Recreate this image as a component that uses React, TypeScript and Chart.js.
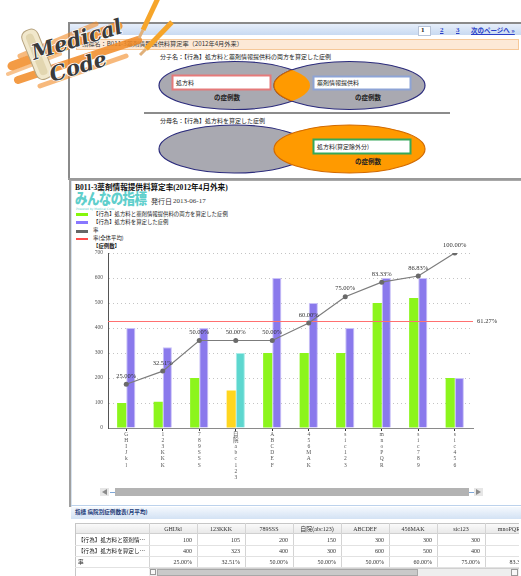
import React, { useEffect, useRef } from 'react';
import { Chart, registerables } from 'chart.js';

Chart.register(...registerables);

// ---------------- data ----------------
const categories = ['GHIJkl', '123KKK', '789SSS', '自院(abc123)', 'ABCDEF', '456MAK', 'sic123', 'mnoPQR', 'sic789', 'sic456'];
const bothCounts = [100, 105, 200, 150, 300, 300, 300, 500, 520, 200];
const prescriptionCounts = [400, 323, 400, 300, 600, 500, 400, 600, 600, 200];
const rates = [25.0, 32.51, 50.0, 50.0, 50.0, 60.0, 75.0, 83.33, 86.83, 100.0];
const averageRate = 61.27;
const ownHospital = '自院(abc123)';
const yAxisMax = 700;
const yAxisStep = 100;
const rateAxisMax = 100;
const seriesLabels = [
  '【行為】処方料と薬剤情報提供料の両方を算定した症例',
  '【行為】処方料を算定した症例',
  '率',
  '率(全体平均)',
];
const chartTitle = 'B011-3薬剤情報提供料算定率(2012年4月外来)';
const issueDate = '2013-06-17';
const indicatorName = '指標名：B011-3薬剤情報提供料算定率（2012年4月外来）';
const numeratorName = '分子名：【行為】処方料と薬剤情報提供料の両方を算定した症例';
const denominatorName = '分母名：【行為】処方料を算定した症例';
const tableTitle = '指標 病院別症例数表(月平均)';
const pages = ['1', '2', '3'];

// ---------------- styles ----------------
const SERIF = "'Liberation Serif', 'Noto Sans CJK JP', serif";
const GOTHIC = "'Noto Sans CJK JP', 'DejaVu Sans', sans-serif";
const GREEN = '#8cf51c';
const PURPLE = '#8a79ec';
const YELLOW = '#ffd61f';
const TEAL = '#5dd7cf';
const RATE_GRAY = '#7c7c7c';
const RED = '#ff7070';
const legendColors = ['#86f70a', '#8877ff', '#666666', '#ff4a4a'];
const legendWidths = [3, 3, 3, 1.5];

const abs = (l: number, t: number, extra: React.CSSProperties = {}): React.CSSProperties => ({
  position: 'absolute',
  left: l,
  top: t,
  ...extra,
});

function RateChart() {
  const ref = useRef<HTMLCanvasElement>(null);
  useEffect(() => {
    if (!ref.current) return;
    const own = categories.indexOf(ownHospital);
    const overlay = {
      id: 'overlay',
      beforeDatasetDraw(chart: any, args: any) {
        if (args.index !== 2) return;
        const { ctx, chartArea } = chart;
        const yAvg = Math.round(chart.scales.y2.getPixelForValue(averageRate)) + 0.5;
        ctx.save();
        ctx.strokeStyle = RED;
        ctx.lineWidth = 1;
        ctx.beginPath();
        ctx.moveTo(chartArea.left, yAvg);
        ctx.lineTo(chartArea.right, yAvg);
        ctx.stroke();
        ctx.font = `6.5px ${SERIF}`;
        ctx.fillStyle = '#333';
        ctx.textBaseline = 'middle';
        ctx.textAlign = 'left';
        ctx.fillText(averageRate.toFixed(2) + '%', chartArea.right + 4, yAvg);
        ctx.restore();
      },
      afterDatasetsDraw(chart: any) {
        const { ctx } = chart;
        const meta = chart.getDatasetMeta(2);
        ctx.save();
        ctx.font = `6.5px ${SERIF}`;
        ctx.fillStyle = '#333';
        ctx.textBaseline = 'middle';
        ctx.textAlign = 'center';
        meta.data.forEach((pt: any, i: number) => {
          ctx.fillText(rates[i].toFixed(2) + '%', pt.x, pt.y - 8);
        });
        ctx.restore();
      },
    };
    const chart = new Chart(ref.current, {
      type: 'bar',
      data: {
        labels: categories,
        datasets: [
          {
            type: 'bar',
            label: seriesLabels[0],
            data: bothCounts,
            backgroundColor: categories.map((_, i) => (i === own ? YELLOW : GREEN)),
            borderWidth: 0,
            categoryPercentage: 0.5,
            barPercentage: 1,
            yAxisID: 'y',
            order: 1,
          },
          {
            type: 'bar',
            label: seriesLabels[1],
            data: prescriptionCounts,
            backgroundColor: categories.map((_, i) => (i === own ? TEAL : PURPLE)),
            borderColor: categories.map((_, i) => (i === own ? '#a8ece8' : '#c9c1f7')),
            borderWidth: { left: 1, right: 1, top: 1, bottom: 0 },
            categoryPercentage: 0.5,
            barPercentage: 1,
            yAxisID: 'y',
            order: 1,
          },
          {
            type: 'line',
            label: seriesLabels[2],
            data: rates,
            borderColor: RATE_GRAY,
            borderWidth: 1.2,
            pointRadius: 2.5,
            pointBackgroundColor: '#6a6a6a',
            pointBorderColor: '#6a6a6a',
            pointBorderWidth: 0,
            tension: 0,
            yAxisID: 'y2',
            order: 0,
          } as any,
        ],
      },
      options: {
        animation: false,
        responsive: false,
        maintainAspectRatio: false,
        layout: { padding: { left: 8, right: 48, top: 13, bottom: 0 } },
        plugins: { legend: { display: false }, tooltip: { enabled: false }, title: { display: false } },
        scales: {
          x: {
            offset: true,
            grid: { drawOnChartArea: false, drawTicks: true, tickLength: 3, color: '#333', offset: false },
            border: { display: true, color: '#8a8a8a', width: 1 },
            ticks: {
              autoSkip: false,
              maxRotation: 0,
              minRotation: 0,
              padding: 0,
              color: '#555',
              font: { family: SERIF, size: 5.5, lineHeight: 1.13 },
              callback: (_v: any, i: number) => categories[i].replace(/[()]/g, '').split(''),
            },
            afterFit: (s: any) => {
              s.height = 67;
            },
          },
          y: {
            min: 0,
            max: yAxisMax,
            ticks: { stepSize: yAxisStep, padding: 5, color: '#555', font: { family: SERIF, size: 5.5 } },
            grid: { color: '#c4c4c4', drawTicks: false, lineWidth: 1 },
            border: { display: true, color: '#555', width: 1, dash: [1, 3] },
            afterFit: (s: any) => {
              s.width = 30;
            },
          },
          y2: {
            display: false,
            min: 0,
            max: rateAxisMax,
          },
        },
      },
      plugins: [overlay],
    } as any);
    return () => chart.destroy();
  }, []);
  return <canvas ref={ref} width={451} height={255} style={abs(70, 240, { width: 451, height: 255 })} />;
}

function MedicalCodeLogo() {
  return (
    <svg width={185} height={95} style={abs(0, 0)}>
      <g stroke="#f28a25" strokeLinecap="round" fill="none" opacity={0.85}>
        <path d="M12 66 L118 26" strokeWidth={9} />
        <path d="M18 80 L138 40" strokeWidth={8} />
        <path d="M20 56 L96 24" strokeWidth={5} opacity={0.7} />
        <path d="M40 86 L126 56" strokeWidth={5} opacity={0.7} />
        <path d="M8 74 L60 54" strokeWidth={4} opacity={0.6} />
      </g>
      <g transform="rotate(-22 38 55)">
        <rect x={29} y={28} width={17} height={52} rx={7} fill="#f1e8cc" stroke="#b6a37e" strokeWidth={1} />
        <rect x={33} y={32} width={8} height={44} rx={4} fill="#e2d6b0" />
      </g>
      <g strokeLinecap="butt">
        <line x1={158} y1={-2} x2={143} y2={30} stroke="#f6a52a" strokeWidth={5} />
        <line x1={143} y1={30} x2={139} y2={38} stroke="#e0b07a" strokeWidth={3} />
        <line x1={172} y1={22} x2={146} y2={49} stroke="#f6a52a" strokeWidth={5} />
        <line x1={146} y1={49} x2={140} y2={55} stroke="#e0b07a" strokeWidth={3} />
      </g>
      <text
        x={34}
        y={60}
        transform="rotate(-17 34 60)"
        fontFamily="'DejaVu Serif', serif"
        fontStyle="italic"
        fontWeight="bold"
        fontSize={21}
        fill="#3b3b3b"
        stroke="#ffffff"
        strokeWidth={1.5}
        paintOrder="stroke"
      >
        Medical
      </text>
      <text
        x={52}
        y={82}
        transform="rotate(-17 52 82)"
        fontFamily="'DejaVu Serif', serif"
        fontStyle="italic"
        fontWeight="bold"
        fontSize={21}
        fill="#3b3b3b"
        stroke="#ffffff"
        strokeWidth={1.5}
        paintOrder="stroke"
      >
        Code
      </text>
    </svg>
  );
}

function VennPanel() {
  const navy = '#2b2b7c';
  const gray = '#a9a9b1';
  const orange = '#ff9a00';
  return (
    <svg width={521} height={180} style={abs(0, 0)}>
      <defs>
        <clipPath id="leftClip">
          <ellipse cx={234.5} cy={85.5} rx={75.5} ry={24} />
        </clipPath>
      </defs>
      {/* numerator venn */}
      <ellipse cx={234.5} cy={85.5} rx={75.5} ry={24} fill={gray} stroke={navy} strokeWidth={1.2} />
      <ellipse cx={349.5} cy={85.5} rx={75.5} ry={24} fill={gray} stroke={navy} strokeWidth={1.2} />
      <ellipse cx={349.5} cy={85.5} rx={75.5} ry={24} fill={orange} stroke="#d26a00" strokeWidth={1.2} clipPath="url(#leftClip)" />
      <rect x={172.5} y={75.5} width={98} height={14} fill="#fff" stroke="#e57a7a" strokeWidth={2} />
      <rect x={313.5} y={76.5} width={97} height={13} fill="#fff" stroke="#8ea4d6" strokeWidth={2} />
      <line x1={144} y1={113} x2={450} y2={113} stroke="#666" strokeWidth={1.5} />
      {/* denominator venn */}
      <ellipse cx={234.5} cy={149} rx={75.5} ry={24} fill={gray} stroke={navy} strokeWidth={1.2} />
      <ellipse cx={349.5} cy={149} rx={75.5} ry={24} fill={orange} stroke="#d26a00" strokeWidth={1.2} />
      <rect x={313.5} y={139.5} width={97} height={14} fill="#fff" stroke="#36a85a" strokeWidth={2} />
    </svg>
  );
}

export default function App() {
  const smallText = (l: number, t: number, s: string, size = 6, extra: React.CSSProperties = {}) => (
    <div style={abs(l, t, { fontFamily: GOTHIC, fontSize: size, lineHeight: '1', whiteSpace: 'nowrap', color: '#222', ...extra })}>{s}</div>
  );
  const colLefts = [75, 149, 197, 245, 293, 341, 389, 437, 485];
  const tableCols = categories.slice(0, 8);
  const rows = [
    { label: seriesLabels[0], values: bothCounts.map((v) => String(v)) },
    { label: seriesLabels[1], values: prescriptionCounts.map((v) => String(v)) },
    { label: seriesLabels[2], values: rates.map((v) => v.toFixed(2) + '%') },
  ];
  const rowTops = [523, 534, 545, 556];
  return (
    <div style={abs(0, 0, { width: 521, height: 576, overflow: 'hidden', background: '#fff', fontFamily: GOTHIC })}>
      {/* ---------- top panel ---------- */}
      <div
        style={abs(68, 22, {
          width: 470,
          height: 154,
          borderTop: '2px solid #8a8a8a',
          borderLeft: '2px solid #8a8a8a',
          borderBottom: '2px solid #9a9a9a',
          background: '#fff',
        })}
      />
      <div style={abs(70, 24, { width: 451, height: 11, background: 'linear-gradient(#e6eefa, #c9daf1)' })} />
      <div style={abs(418, 26, { width: 11, height: 8, background: '#fff', border: '1px solid #b8c4d8' })} />
      {smallText(421, 27, pages[0], 7, { fontWeight: 'bold', fontFamily: SERIF })}
      {pages.slice(1).map((p, i) =>
        smallText(440 + i * 16, 27, p, 7, { fontWeight: 'bold', fontFamily: SERIF, color: '#2a3fc8', textDecoration: 'underline' })
      )}
      {smallText(471, 27, '次のページへ »', 6.5, { fontWeight: 'bold', color: '#2a3fc8', textDecoration: 'underline' })}
      <div style={abs(76, 39, { width: 441, height: 9, background: '#fde9d6', border: '1px solid #f6c898' })} />
      {smallText(82, 41, indicatorName, 6.2, { color: '#333' })}
      {smallText(160, 54, numeratorName, 6, { color: '#222' })}
      {smallText(160, 118, denominatorName, 6, { color: '#222' })}
      <VennPanel />
      {smallText(176, 79.5, '処方料', 6)}
      {smallText(317, 80, '薬剤情報提供料', 6)}
      {smallText(214, 94, 'の症例数', 6.5, { fontWeight: 'bold' })}
      {smallText(355, 94, 'の症例数', 6.5, { fontWeight: 'bold' })}
      {smallText(317, 143.5, '処方料(算定除外分)', 6)}
      {smallText(355, 158, 'の症例数', 6.5, { fontWeight: 'bold' })}

      {/* ---------- chart panel ---------- */}
      <div style={abs(68, 178, { width: 460, height: 1, background: '#9a9a9a' })} />
      <div
        style={abs(69, 180, {
          width: 460,
          height: 326,
          borderTop: '1px solid #a8a8a8',
          borderLeft: '2px solid #a0a0a0',
          boxShadow: 'inset 1px 0 0 #d6e2ef',
        })}
      />
      <div style={abs(75, 184, { fontFamily: SERIF, fontSize: 7.6, fontWeight: 'bold', lineHeight: '1', whiteSpace: 'nowrap', color: '#111' })}>
        {chartTitle}
      </div>
      <div
        style={abs(75, 191, {
          fontFamily: GOTHIC,
          fontSize: 12.5,
          fontWeight: 900,
          lineHeight: '1',
          whiteSpace: 'nowrap',
          color: '#5fcfcc',
          letterSpacing: -0.6,
          transform: 'scaleY(1.15)',
          transformOrigin: 'top left',
        })}
      >
        みんなの指標
      </div>
      {smallText(76, 207.5, 'Powered by Medical Code', 3, { color: '#5fcfcc', fontFamily: 'DejaVu Sans' })}
      {smallText(151, 197.5, '発行日', 7, { color: '#333' })}
      <div style={abs(173, 198, { fontFamily: SERIF, fontSize: 7, lineHeight: '1', whiteSpace: 'nowrap', color: '#333' })}>{issueDate}</div>
      {seriesLabels.map((lab, i) => {
        const cy = [214.5, 222.7, 231, 238.8][i];
        return (
          <React.Fragment key={lab}>
            <div style={abs(76, cy - legendWidths[i] / 2, { width: 12, height: legendWidths[i], background: legendColors[i] })} />
            {smallText(93, cy - 3, lab, 5.4, { color: '#222' })}
          </React.Fragment>
        );
      })}
      {smallText(93, 243.5, '【症例数】', 5.4, { color: '#222', fontWeight: 'bold' })}
      <RateChart />

      {/* chart scroll bar */}
      <div style={abs(100, 488, { width: 9, height: 8, background: '#e6e6e6' })} />
      <div style={abs(102, 489, { width: 0, height: 0, borderTop: '3px solid transparent', borderBottom: '3px solid transparent', borderRight: '5px solid #8a8a8a' })} />
      <div style={abs(110, 491.5, { width: 5, height: 1, background: '#7fa8d8' })} />
      <div style={abs(115, 488, { width: 354, height: 8, background: '#b3b3b3' })} />
      <div style={abs(469, 491.5, { width: 5, height: 1, background: '#7fa8d8' })} />
      <div style={abs(474, 488, { width: 9, height: 8, background: '#e6e6e6' })} />
      <div style={abs(476, 489, { width: 0, height: 0, borderTop: '3px solid transparent', borderBottom: '3px solid transparent', borderLeft: '5px solid #8a8a8a' })} />

      {/* ---------- table panel ---------- */}
      <div style={abs(71, 505, { width: 450, height: 1, background: '#bcd2ec' })} />
      <div style={abs(71, 507, { width: 450, height: 12, background: 'linear-gradient(#f4f8fd, #d3e2f4)' })} />
      {smallText(75, 510, tableTitle, 5.6, { fontWeight: 'bold', color: '#1d3b78' })}
      <div style={abs(75, 523, { width: 444, height: 53, overflow: 'hidden' })}>
        {/* header row */}
        <div style={abs(0, 0, { width: 444, height: 11, background: 'linear-gradient(#fafafa, #e9e9e9)', borderTop: '1px solid #c6c6c6', borderBottom: '1px solid #d0d0d0', boxSizing: 'border-box' })} />
        {tableCols.map((c, i) => (
          <React.Fragment key={c}>
            <div style={abs(colLefts[i + 1] - 75, 0, { width: 1, height: 44, background: '#d4d4d4' })} />
            <div
              style={abs(colLefts[i + 1] - 75, 3, {
                width: 48,
                textAlign: 'center',
                fontFamily: SERIF,
                fontSize: 6,
                lineHeight: '1',
                whiteSpace: 'nowrap',
                color: '#333',
              })}
            >
              {c}
            </div>
          </React.Fragment>
        ))}
        <div style={abs(0, 0, { width: 1, height: 53, background: '#c6c6c6' })} />
        {rows.map((r, ri) => (
          <React.Fragment key={r.label}>
            <div style={abs(0, rowTops[ri + 1] - 523 + 11, { width: 444, height: 1, background: '#e2e2e2' })} />
            <div
              style={abs(3, rowTops[ri + 1] - 523 + 3, {
                width: 70,
                overflow: 'hidden',
                textOverflow: 'ellipsis',
                fontFamily: GOTHIC,
                fontSize: 5.6,
                lineHeight: '1.1',
                whiteSpace: 'nowrap',
                color: '#222',
              })}
            >
              {r.label}
            </div>
            {r.values.slice(0, 8).map((v, ci) => (
              <div
                key={ci}
                style={abs(colLefts[ci + 1] - 75, rowTops[ri + 1] - 523 + 3, {
                  width: 43,
                  textAlign: 'right',
                  fontFamily: SERIF,
                  fontSize: 6,
                  lineHeight: '1',
                  whiteSpace: 'nowrap',
                  color: '#333',
                })}
              >
                {v}
              </div>
            ))}
          </React.Fragment>
        ))}
        {/* table scroll bar */}
        <div style={abs(74, 45, { width: 370, height: 8, background: '#eeeeee', borderTop: '1px solid #d0d0d0' })} />
        <div style={abs(75, 46, { width: 6, height: 6, background: '#f8f8f8', border: '1px solid #999', boxSizing: 'border-box' })} />
        <div style={abs(82, 46, { width: 261, height: 7, background: '#c9c9c9', border: '1px solid #a8a8a8', boxSizing: 'border-box' })} />
        <div style={abs(436, 46, { width: 7, height: 7, background: '#f8f8f8', border: '1px solid #999', boxSizing: 'border-box' })} />
      </div>

      <MedicalCodeLogo />
    </div>
  );
}
